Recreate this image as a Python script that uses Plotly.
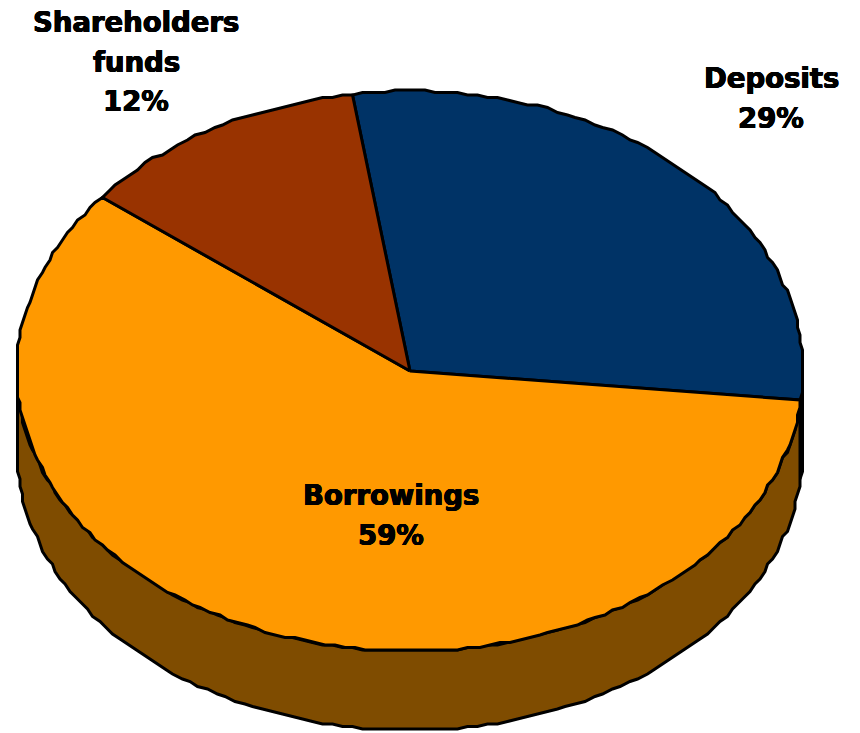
import numpy as np
import plotly.graph_objects as go

# Funding mix, in percent, clockwise from the first slice
categories = ["Deposits", "Borrowings", "Shareholders funds"]
shares = [29, 59, 12]
top_colors = ["#003366", "#FF9900", "#993300"]
side_colors = ["#00152B", "#7F4C00", "#4C1900"]
label_lines = [["Deposits"], ["Borrowings"], ["Shareholders", "funds"]]
label_centers = [(771, 78), (391, 495), (136, 22)]

# Geometry of the tilted disc, in pixel-like axis units
CX, CY, RX, RY, DEPTH = 410, 371, 393, 280, 79
START_DEG = -8.3
STEP_DEG = 1.5
GRID = 2.5  # rim vertices snap to this grid, which gives the faceted outline
LINE_GAP = 39.5


def rim(a0, a1, drop=0):
    n = max(2, int(abs(a1 - a0) / STEP_DEG) + 1)
    t = np.radians(np.linspace(a0, a1, n))
    x = CX + RX * np.sin(t)
    y = CY - RY * np.cos(t)
    return np.round(x / GRID) * GRID, np.round(y / GRID) * GRID + drop


fig = go.Figure()

edges = START_DEG + np.concatenate([[0], np.cumsum(shares)]) * 3.6


def add_poly(x, y, color):
    fig.add_trace(go.Scatter(
        x=list(x), y=list(y), mode="lines", fill="toself", fillcolor=color,
        line=dict(color="black", width=3, simplify=False),
        hoverinfo="skip", showlegend=False,
    ))


# Wall of the disc: only the front half, from 90 to 270 degrees, is visible
for i in range(len(shares)):
    a0, a1 = max(edges[i], 90), min(edges[i + 1], 270)
    if a1 <= a0:
        continue
    xt, yt = rim(a0, a1)
    xb, yb = rim(a0, a1, DEPTH)
    add_poly(np.r_[xt, xb[::-1], xt[0]], np.r_[yt, yb[::-1], yt[0]], side_colors[i])

# Top face
for i in range(len(shares)):
    xr, yr = rim(edges[i], edges[i + 1])
    add_poly(np.r_[CX, xr, CX], np.r_[CY, yr, CY], top_colors[i])

# Labels: category lines followed by the share, thickened with a tight shadow
HEAVY = "0.6px 0 0 black, -0.6px 0 0 black, 0 0.3px 0 black, 0 -0.3px 0 black"
for lines, (lx, ly), v in zip(label_lines, label_centers, shares):
    for k, text in enumerate(lines + [f"{v}%"]):
        fig.add_annotation(
            x=lx, y=ly + k * LINE_GAP, text=f"<b>{text}</b>", showarrow=False,
            xanchor="center", yanchor="middle",
            font=dict(family="DejaVu Sans", size=27.5, color="black", shadow=HEAVY),
        )

fig.update_layout(
    width=860, height=733, margin=dict(l=0, r=0, t=0, b=0),
    paper_bgcolor="white", plot_bgcolor="white", showlegend=False,
    xaxis=dict(range=[0, 860], visible=False, fixedrange=True),
    yaxis=dict(range=[733, 0], visible=False, fixedrange=True),
)
fig.write_html("out.html", config={"displayModeBar": False})
